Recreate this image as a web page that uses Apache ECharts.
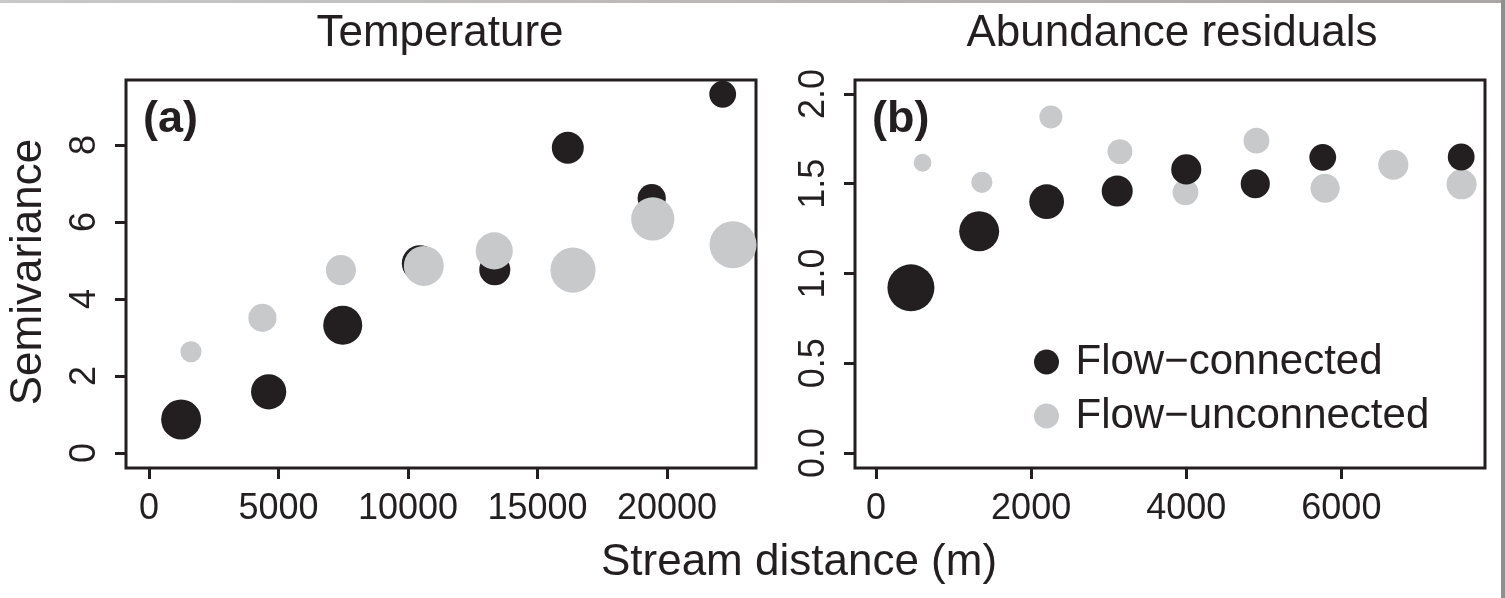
<!DOCTYPE html>
<html>
<head>
<meta charset="utf-8">
<script src="https://cdn.jsdelivr.net/npm/echarts@6/dist/echarts.min.js"></script>
<style>
  html, body { margin: 0; padding: 0; background: #ffffff; }
  #chart { width: 1505px; height: 598px; }
</style>
</head>
<body>
<div id="chart"></div>
<script>
// ---------- Data ----------
// Panel (a) Temperature
const distA_conn = [1240, 4620, 7480, 10460, 13350, 16170, 19410, 22150];
const semiA_conn = [0.87, 1.59, 3.32, 4.93, 4.76, 7.93, 6.62, 9.32];
const weightA_conn = [0.85, 0.75, 0.83, 0.77, 0.66, 0.68, 0.60, 0.57];
const distA_unc = [1620, 4380, 7410, 10610, 13330, 16370, 19450, 22550];
const semiA_unc = [2.63, 3.51, 4.75, 4.86, 5.25, 4.75, 6.08, 5.41];
const weightA_unc = [0.45, 0.60, 0.64, 0.85, 0.79, 0.96, 0.92, 1.00];

// Panel (b) Abundance residuals
const distB_conn = [450, 1330, 2200, 3110, 4000, 4890, 5760, 7545];
const semiB_conn = [0.92, 1.235, 1.40, 1.46, 1.58, 1.50, 1.647, 1.649];
const weightB_conn = [1.00, 0.85, 0.74, 0.66, 0.64, 0.62, 0.57, 0.57];
const distB_unc = [600, 1365, 2255, 3145, 3990, 4905, 5790, 6670, 7550];
const semiB_unc = [1.617, 1.508, 1.872, 1.679, 1.452, 1.74, 1.475, 1.606, 1.497];
const weightB_unc = [0.38, 0.45, 0.49, 0.53, 0.55, 0.55, 0.62, 0.64, 0.64];

// Tick labels
const xTicksA = [0, 5000, 10000, 15000, 20000];
const yTicksA = [0, 2, 4, 6, 8];
const xTicksB = [0, 2000, 4000, 6000];
const yTicksB = [0, 0.5, 1.0, 1.5, 2.0];

const panelTitles = ['Temperature', 'Abundance residuals'];
const panelTags = ['(a)', '(b)'];
const seriesNames = ['Flow\u2212connected', 'Flow\u2212unconnected'];
const yAxisName = 'Semivariance';
const xAxisName = 'Stream distance (m)';

// ---------- Style ----------
const INK = '#231f20';
const GREY = '#c8c9cb';
const FONT = '"Liberation Sans", Arial, Helvetica, sans-serif';
const MAX_SYMBOL = 47;

function pairs(xs, ys) { return xs.map((x, i) => [x, ys[i]]); }
function sizeFn(weights) { return (v, p) => MAX_SYMBOL * weights[p.dataIndex]; }

function makeX(idx, min, max, ticks) {
  return {
    type: 'value', gridIndex: idx, min: min, max: max,
    axisLine: { show: false, onZero: false },
    splitLine: { show: false },
    axisTick: { show: true, length: 11, customValues: ticks, lineStyle: { color: INK, width: 3 } },
    axisLabel: { customValues: ticks, fontSize: 36, fontFamily: FONT, color: INK, margin: 23,
      formatter: v => String(v) }
  };
}
function makeY(idx, min, max, ticks, digits) {
  return {
    type: 'value', gridIndex: idx, min: min, max: max,
    axisLine: { show: false, onZero: false },
    splitLine: { show: false },
    axisTick: { show: true, length: 11, customValues: ticks, lineStyle: { color: INK, width: 3 } },
    axisLabel: { customValues: ticks, fontSize: 36, fontFamily: FONT, color: INK, margin: 23, rotate: 90,
      formatter: v => Number(v).toFixed(digits) }
  };
}

const chart = echarts.init(document.getElementById('chart'), null, { renderer: 'canvas' });

const option = {
  backgroundColor: '#ffffff',
  animation: false,
  grid: [
    { left: 126, top: 80, width: 630, height: 388, show: true, borderColor: INK, borderWidth: 3, backgroundColor: 'transparent' },
    { left: 855, top: 80, width: 630, height: 388, show: true, borderColor: INK, borderWidth: 3, backgroundColor: 'transparent' }
  ],
  xAxis: [
    makeX(0, -888, 23436, xTicksA),
    makeX(1, -271, 7852, xTicksB)
  ],
  yAxis: [
    makeY(0, -0.39, 9.69, yTicksA, 0),
    makeY(1, -0.0836, 2.078, yTicksB, 1)
  ],
  legend: {
    data: seriesNames,
    orient: 'vertical',
    left: 1029, top: 336,
    itemWidth: 48, itemHeight: 25, itemGap: 12,
    icon: 'circle',
    selectedMode: false,
    textStyle: { fontSize: 42, fontFamily: FONT, color: INK, lineHeight: 42 }
  },
  series: [
    { name: seriesNames[0], type: 'scatter', xAxisIndex: 0, yAxisIndex: 0, data: pairs(distA_conn, semiA_conn),
      symbol: 'circle', symbolSize: sizeFn(weightA_conn), itemStyle: { color: INK, opacity: 1 }, z: 2 },
    { name: seriesNames[1], type: 'scatter', xAxisIndex: 0, yAxisIndex: 0, data: pairs(distA_unc, semiA_unc),
      symbol: 'circle', symbolSize: sizeFn(weightA_unc), itemStyle: { color: GREY, opacity: 1 }, z: 3 },
    { name: seriesNames[1], type: 'scatter', xAxisIndex: 1, yAxisIndex: 1, data: pairs(distB_unc, semiB_unc),
      symbol: 'circle', symbolSize: sizeFn(weightB_unc), itemStyle: { color: GREY, opacity: 1 }, z: 2 },
    { name: seriesNames[0], type: 'scatter', xAxisIndex: 1, yAxisIndex: 1, data: pairs(distB_conn, semiB_conn),
      symbol: 'circle', symbolSize: sizeFn(weightB_conn), itemStyle: { color: INK, opacity: 1 }, z: 3 }
  ],
  graphic: [
    { type: 'text', x: 440, y: 34, style: { text: panelTitles[0], fill: INK, font: '44px ' + FONT, align: 'center', verticalAlign: 'middle' } },
    { type: 'text', x: 1172, y: 34, style: { text: panelTitles[1], fill: INK, font: '44px ' + FONT, align: 'center', verticalAlign: 'middle' } },
    { type: 'text', x: 143, y: 120, style: { text: panelTags[0], fill: INK, font: 'bold 45px ' + FONT, align: 'left', verticalAlign: 'middle' } },
    { type: 'text', x: 872, y: 120, style: { text: panelTags[1], fill: INK, font: 'bold 45px ' + FONT, align: 'left', verticalAlign: 'middle' } },
    { type: 'text', x: 28.5, y: 272, rotation: Math.PI / 2, style: { text: yAxisName, fill: INK, font: '44px ' + FONT, align: 'center', verticalAlign: 'middle' } },
    { type: 'text', x: 799, y: 563, style: { text: xAxisName, fill: INK, font: '44px ' + FONT, align: 'center', verticalAlign: 'middle' } },
    { type: 'rect', shape: { x: 0, y: 0, width: 1505, height: 3 }, style: { fill: new echarts.graphic.LinearGradient(0, 0, 1, 0, [{ offset: 0, color: '#c9c9c9' }, { offset: 1, color: '#a9a6a3' }]) }, z: 100 },
    { type: 'rect', shape: { x: 1501, y: 0, width: 4, height: 598 }, style: { fill: '#8f8f8f' }, z: 100 }
  ]
};
chart.setOption(option);
</script>
</body>
</html>
